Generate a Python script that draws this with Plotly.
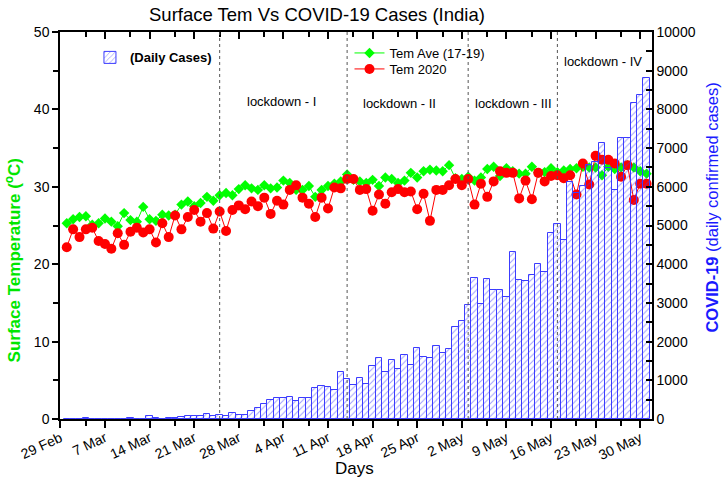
import plotly.graph_objects as go
import pandas as pd

# ---------------- data ----------------
start_date = "2020-03-01"
n_days = 92
dates = pd.date_range(start_date, periods=n_days, freq="D")

daily_cases = [
    0, 2, 1, 22, 1, 2, 1, 3, 5, 9,
    15, 8, 12, 70, 15, 10, 15, 25, 40, 70,
    90, 90, 120, 90, 100, 80, 150, 110, 100, 210,
    290, 400, 480, 530, 550, 580, 470, 550, 550, 790,
    850, 830, 750, 1220, 1030, 880, 1060, 900, 1370, 1570,
    1220, 1520, 1290, 1650, 1390, 1830, 1610, 1570, 1890, 1700,
    1800, 2380, 2540, 2940, 3650, 2970, 3610, 3330, 3330, 3160,
    4310, 3590, 3560, 3720, 4000, 3800, 4800, 5040, 4620, 6130,
    5840, 6020, 6560, 6650, 7130, 6490, 5920, 7260, 7260, 8170,
    8370, 8810,
]

tem_ave = [
    25.3, 25.8, 26.1, 26.2, 25.1, 25.3, 25.9, 25.5, 24.9, 26.6,
    25.7, 25.5, 27.4, 25.8, 25.6, 26.4, 26.3, 26.4, 27.7, 28.1,
    27.5, 27.9, 28.7, 28.2, 28.9, 29.2, 28.9, 29.7, 30.2, 29.8,
    29.6, 30.2, 29.8, 29.9, 30.8, 30.5, 29.6, 29.6, 30.1, 28.7,
    29.6, 30.1, 30.4, 30.7, 31.6, 30.9, 30.7, 30.5, 30.9, 30.1,
    31.2, 31.0, 30.5, 30.8, 31.8, 31.2, 32.0, 32.2, 32.1, 32.0,
    32.8, 31.1, 31.0, 31.3, 30.8, 31.2, 32.3, 32.6, 31.4, 32.4,
    32.0, 31.7, 31.7, 32.6, 31.8, 31.9, 32.4, 31.9, 32.1, 32.3,
    32.4, 32.6, 32.5, 32.5, 31.5, 32.6, 32.3, 32.5, 32.8, 32.5,
    32.0, 31.7,
]

tem_2020 = [
    22.2, 24.5, 23.5, 24.5, 24.7, 23.0, 22.6, 22.0, 24.0, 22.5,
    24.2, 24.7, 24.1, 24.5, 22.8, 25.3, 23.5, 26.3, 24.5, 26.1,
    27.0, 25.5, 26.6, 24.6, 26.8, 24.3, 27.0, 27.6, 27.1, 28.1,
    27.5, 28.6, 26.5, 28.2, 27.7, 29.6, 30.2, 28.6, 27.8, 26.1,
    28.6, 27.2, 29.9, 29.8, 31.0, 31.0, 29.6, 29.7, 26.9, 29.0,
    27.8, 29.3, 29.7, 29.3, 29.4, 27.1, 29.1, 25.6, 29.6, 29.6,
    30.2, 31.0, 30.2, 31.0, 27.7, 30.4, 28.7, 30.7, 32.0, 31.8,
    31.8, 28.5, 30.8, 28.4, 31.8, 30.7, 31.4, 31.5, 31.1, 31.5,
    29.0, 33.0, 30.3, 34.0, 33.5, 33.5, 33.0, 31.3, 32.8, 28.3,
    30.4, 30.4,
]

major_tick_dates = pd.date_range("2020-02-29", "2020-05-30", freq="7D")
minor_tick_dates = pd.date_range("2020-03-04", "2020-05-31", freq="7D")
lockdown_boundaries = ["2020-03-25", "2020-04-14", "2020-05-03", "2020-05-17"]
lockdown_labels = ["lockdown - I", "lockdown - II", "lockdown - III", "lockdown - IV"]

x_range = ["2020-02-28 22:34", "2020-05-31 20:24"]

FONT = "Liberation Sans, Arial, sans-serif"
BLUE = "#3c3cff"
GREEN = "#00ff00"
RED = "#ff0000"
CLEAR = "rgba(0,0,0,0)"

fig = go.Figure()

fig.add_trace(go.Bar(
    x=dates, y=daily_cases, name="<b>(Daily Cases)</b>", yaxis="y2",
    marker=dict(color=CLEAR, line=dict(color=BLUE, width=1),
                pattern=dict(shape="/", fgcolor=BLUE, bgcolor=CLEAR, size=4.5, solidity=0.22)),
    legend="legend",
))
fig.add_trace(go.Scatter(
    x=dates, y=tem_ave, name="Tem Ave (17-19)", mode="lines+markers",
    line=dict(color=GREEN, width=1),
    marker=dict(symbol="diamond", size=8, color=GREEN),
    legend="legend2",
))
fig.add_trace(go.Scatter(
    x=dates, y=tem_2020, name="Tem 2020", mode="lines+markers",
    line=dict(color=RED, width=1),
    marker=dict(symbol="circle", size=10, color=RED),
    legend="legend3",
))
# invisible trace so the mirrored top axis is drawn
fig.add_trace(go.Scatter(x=[dates[0]], y=[None], xaxis="x2", showlegend=False, hoverinfo="skip"))

shapes = []
for d in lockdown_boundaries:
    shapes.append(dict(type="line", xref="x", yref="paper", x0=d, x1=d, y0=0, y1=1,
                       line=dict(color="#555555", width=1, dash="dot")))

ann_pos = [(0.3747, 0.820), (0.5738, 0.816), (0.7662, 0.8165), (0.9165, 0.925)]
annotations = []
for (px, py), lab in zip(ann_pos, lockdown_labels):
    annotations.append(dict(text=lab, xref="paper", yref="paper", x=px, y=py,
                            xanchor="center", yanchor="middle",
                            showarrow=False, font=dict(size=13, color="black", family=FONT)))

# title and axis titles
annotations += [
    dict(text="Surface Tem Vs COVID-19 Cases (India)", xref="paper", yref="paper",
         x=0.4338, y=1.0465, xanchor="center", yanchor="middle", showarrow=False,
         font=dict(size=18.5, color="black", family=FONT)),
    dict(text="Days", xref="paper", yref="paper", x=0.498, y=-0.129,
         xanchor="center", yanchor="middle", showarrow=False,
         font=dict(size=17, color="black", family=FONT)),
    dict(text="<b>Surface Temperature (<sup>o</sup>C)</b>", xref="paper", yref="paper",
         x=-0.0793, y=0.41, xanchor="center", yanchor="middle", textangle=-90, showarrow=False,
         font=dict(size=17, color="#00e600", family=FONT)),
    dict(text="<b>COVID-19</b> (daily confirmed cases)", xref="paper", yref="paper",
         x=1.1022, y=0.545, xanchor="center", yanchor="middle", textangle=-90, showarrow=False,
         font=dict(size=16.5, color="#1a1aff", family=FONT)),
]

fig.update_layout(
    width=725, height=482,
    margin=dict(l=60, r=72.5, t=32, b=63, pad=0),
    paper_bgcolor="white", plot_bgcolor="white",
    font=dict(family=FONT, color="black", size=14),
    bargap=0,
    showlegend=True,
    legend=dict(x=0.0506, y=0.973, xanchor="left", yanchor="top", bgcolor=CLEAR,
                font=dict(size=13)),
    legend2=dict(x=0.489, y=0.9845, xanchor="left", yanchor="top", bgcolor=CLEAR,
                 font=dict(size=13)),
    legend3=dict(x=0.489, y=0.9432, xanchor="left", yanchor="top", bgcolor=CLEAR,
                 font=dict(size=13)),
    xaxis=dict(
        type="date", range=x_range, showgrid=False, zeroline=False, automargin=False,
        showline=True, linecolor="black", linewidth=1.5,
        tickmode="array", tickvals=list(major_tick_dates),
        ticktext=[d.strftime("%-d %b") for d in major_tick_dates],
        ticks="outside", ticklen=7, tickwidth=1.5, tickcolor="black", tickangle=-25,
        tickfont=dict(size=14), ticklabelstandoff=-3,
        minor=dict(tickmode="array", tickvals=list(minor_tick_dates), ticks="outside",
                   ticklen=5, tickwidth=1.5, tickcolor="black"),
    ),
    xaxis2=dict(
        type="date", range=x_range, overlaying="x", side="top", showgrid=False, automargin=False,
        showline=True, linecolor="black", linewidth=1.5, showticklabels=False,
        tickmode="array", tickvals=list(major_tick_dates), ticks="inside",
        ticklen=7, tickwidth=1.5, tickcolor="black",
        minor=dict(tickmode="array", tickvals=list(minor_tick_dates), ticks="inside",
                   ticklen=5, tickwidth=1.5, tickcolor="black"),
    ),
    yaxis=dict(
        range=[0, 50], dtick=10, showgrid=False, zeroline=False, automargin=False,
        showline=True, linecolor="black", linewidth=1.5,
        ticks="outside", ticklen=6, tickwidth=1.5, tickcolor="black",
        minor=dict(dtick=5, ticks="outside", ticklen=5, tickwidth=1.5, tickcolor="black"),
        tickfont=dict(size=14),
    ),
    yaxis2=dict(
        range=[0, 10000], dtick=1000, overlaying="y", side="right", anchor="x", automargin=False,
        showgrid=False, zeroline=False, showline=True, linecolor="black", linewidth=1.5,
        ticks="inside", ticklen=6, tickwidth=1.5, tickcolor="black", tickformat="d",
        minor=dict(dtick=500, ticks="inside", ticklen=6, tickwidth=1.5, tickcolor="black"),
        tickfont=dict(size=14),
    ),
    shapes=shapes,
    annotations=annotations,
)

# remove the browser's default 8px body margin so the figure fills the window exactly
fig.write_html("out.html", config={"displayModeBar": False},
               post_script="document.body.style.margin='0';")
